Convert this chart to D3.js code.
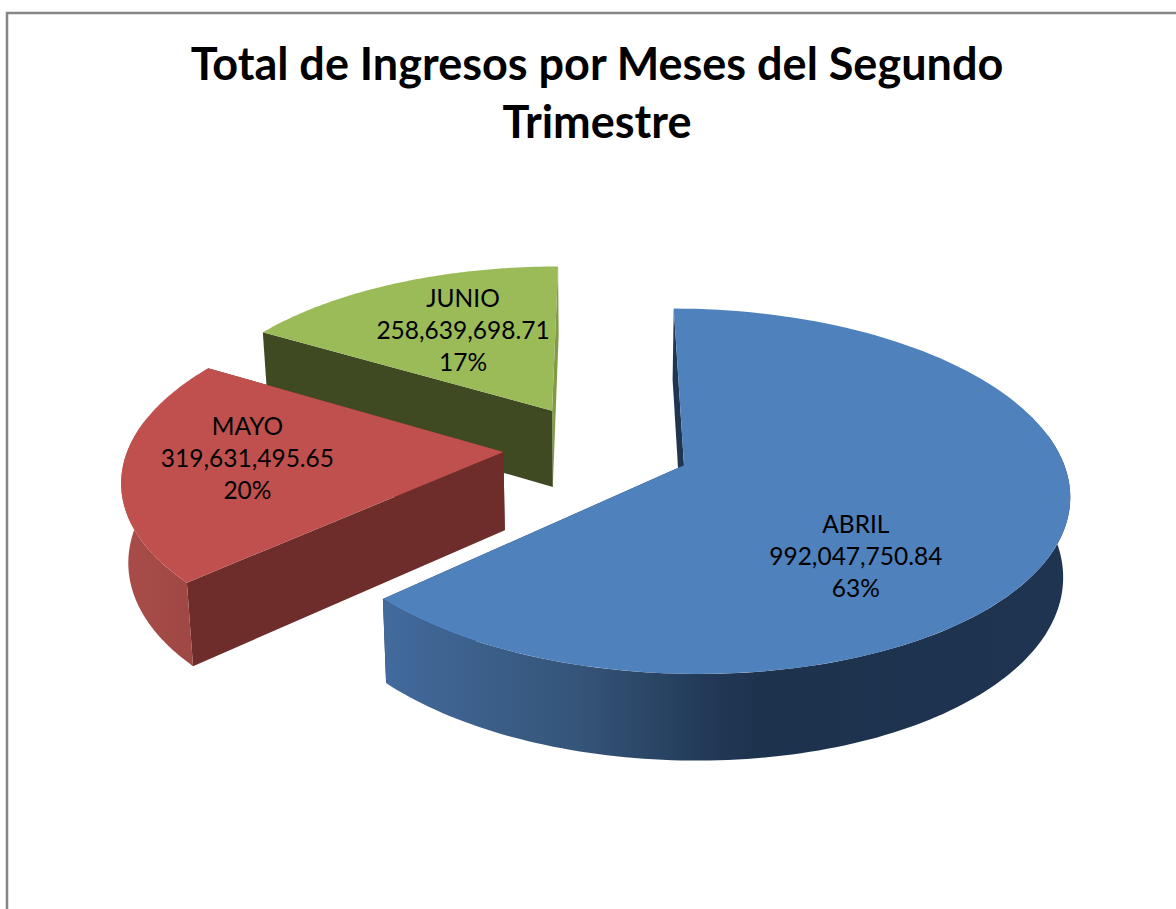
<!DOCTYPE html>
<html>
<head>
<meta charset="utf-8">
<script src="https://cdn.jsdelivr.net/npm/d3@7"></script>
<style>
  html, body { margin: 0; padding: 0; background: #fff; }
  svg { display: block; }
  text { font-family: Lato, "Open Sans", sans-serif; fill: #000; }
  .chart-title { font-size: 45px; font-weight: 700; }
  .slice-label { font-size: 24.5px; }
</style>
</head>
<body>
<div id="chart"></div>
<script>
// Data
const months = ['ABRIL', 'MAYO', 'JUNIO'];
const incomes = [992047750.84, 319631495.65, 258639698.71];
const percentLabels = ['63%', '20%', '17%'];
const titleLines = ['Total de Ingresos por Meses del Segundo', 'Trimestre'];

// Styling per month
const topColors = ['#4f81bd', '#c0504d', '#9bbb59'];
const wallColors = ['#1f3550', '#6e2d2b', '#3f4a22'];
const endWallColors = ['#1f3550', '#6e2d2b', '#7f9a48'];
const sideStops = [
  [[0, '#426a9c'], [0.28, '#355579'], [0.38, '#2c4768'], [0.47, '#223a58'], [0.55, '#1d324d'], [1, '#1f3450']],
  [[0, '#a84c49'], [1, '#9c4643']],
  [[0, '#6f8a3f'], [1, '#6f8a3f']]
];

// Label placement inside each slice (angle in degrees, radius as fraction)
const labelAngles = [139.6, 266.5, 332.6];
const labelRadii = [0.626, 0.676, 0.589];

const width = 1176;
const height = 909;

// Projection of the tilted pie plane to the screen
const cx = 597, cy = 447.5;
const radiusX = 375, radiusY = 174;
const perspective = 0.14;
const explode = 0.25;
const depth = 78;
const depthGrow = 0.1;
const depthShrink = 0.015;

function project(u, v, z) {
  const w = 1 - perspective * v;
  const x = cx + radiusX * u / w;
  const y = cy + radiusY * v / w;
  if (!z) return [x, y];
  return [cx + (x - cx) * (1 - depthShrink * z), y + z * depth * (1 + depthGrow * v)];
}

const rotation = 0.1 * Math.PI / 180;
const pieLayout = d3.pie().sort(null).startAngle(rotation).endAngle(rotation + 2 * Math.PI);
const slices = pieLayout(incomes).map((d, i) => {
  const mid = (d.startAngle + d.endAngle) / 2;
  return {
    i,
    startAngle: d.startAngle,
    endAngle: d.endAngle,
    ou: explode * Math.sin(mid),
    ov: -explode * Math.cos(mid)
  };
});

function rimPoint(s, a, z) {
  return project(s.ou + Math.sin(a), s.ov - Math.cos(a), z);
}

function rimPoints(s, a0, a1, z) {
  return d3.range(0, 121).map(k => rimPoint(s, a0 + (a1 - a0) * k / 120, z));
}

const line = d3.line();

const svg = d3.select('#chart').append('svg')
    .attr('width', width)
    .attr('height', height);

// Outer frame of the chart area, only top and left are inside the crop
svg.append('path')
    .attr('d', line([[7, height], [7, 13], [width, 13]]))
    .attr('fill', 'none')
    .attr('stroke', '#868686')
    .attr('stroke-width', 2.5);

// Title
svg.selectAll('.chart-title')
  .data(titleLines)
  .join('text')
    .attr('class', 'chart-title')
    .attr('text-anchor', 'middle')
    .attr('x', 597)
    .attr('y', (d, i) => 80 + i * 58)
    .text(d => d);

// Gradients for the curved sides
const defs = svg.append('defs');
slices.forEach(s => {
  const xs = rimPoints(s, s.startAngle, s.endAngle, 1).map(p => p[0]);
  const grad = defs.append('linearGradient')
      .attr('id', `side-${s.i}`)
      .attr('gradientUnits', 'userSpaceOnUse')
      .attr('x1', d3.min(xs)).attr('x2', d3.max(xs))
      .attr('y1', 0).attr('y2', 0);
  grad.selectAll('stop')
    .data(sideStops[s.i])
    .join('stop')
      .attr('offset', d => d[0])
      .attr('stop-color', d => d[1]);
});

// Back to front: JUNIO, MAYO, ABRIL
const visibleFrom = 80 * Math.PI / 180;
const visibleTo = 280 * Math.PI / 180;

[2, 1, 0].forEach(idx => {
  const s = slices[idx];
  const g = svg.append('g').attr('class', 'slice');
  const apexTop = project(s.ou, s.ov, 0);
  const apexBottom = project(s.ou, s.ov, 1);

  // flat walls along both radial cuts
  [[s.endAngle, endWallColors[idx]], [s.startAngle, wallColors[idx]]].forEach(([a, color]) => {
    g.append('path')
        .attr('d', line([apexTop, rimPoint(s, a, 0), rimPoint(s, a, 1), apexBottom]) + 'Z')
        .attr('fill', color);
  });

  // curved outer wall, only the part turned to the viewer
  const a0 = Math.max(s.startAngle, visibleFrom);
  const a1 = Math.min(s.endAngle, visibleTo);
  if (a1 > a0) {
    g.append('path')
        .attr('d', line(rimPoints(s, a0, a1, 0).concat(rimPoints(s, a0, a1, 1).reverse())) + 'Z')
        .attr('fill', `url(#side-${idx})`);
  }

  // top face
  g.append('path')
      .attr('d', line([apexTop].concat(rimPoints(s, s.startAngle, s.endAngle, 0))) + 'Z')
      .attr('fill', topColors[idx]);
});

// Labels: month, value, percent
const valueFormat = d3.format(',.2f');
slices.forEach(s => {
  const a = labelAngles[s.i] * Math.PI / 180;
  const r = labelRadii[s.i];
  const p = project(s.ou + r * Math.sin(a), s.ov - r * Math.cos(a), 0);
  svg.append('text')
      .attr('class', 'slice-label')
      .attr('text-anchor', 'middle')
      .attr('x', p[0])
      .attr('y', p[1])
    .selectAll('tspan')
    .data([months[s.i], valueFormat(incomes[s.i]), percentLabels[s.i]])
    .join('tspan')
      .attr('x', p[0])
      .attr('y', (d, i) => p[1] + (i - 1) * 32 + 8)
      .text(d => d);
});
</script>
</body>
</html>
